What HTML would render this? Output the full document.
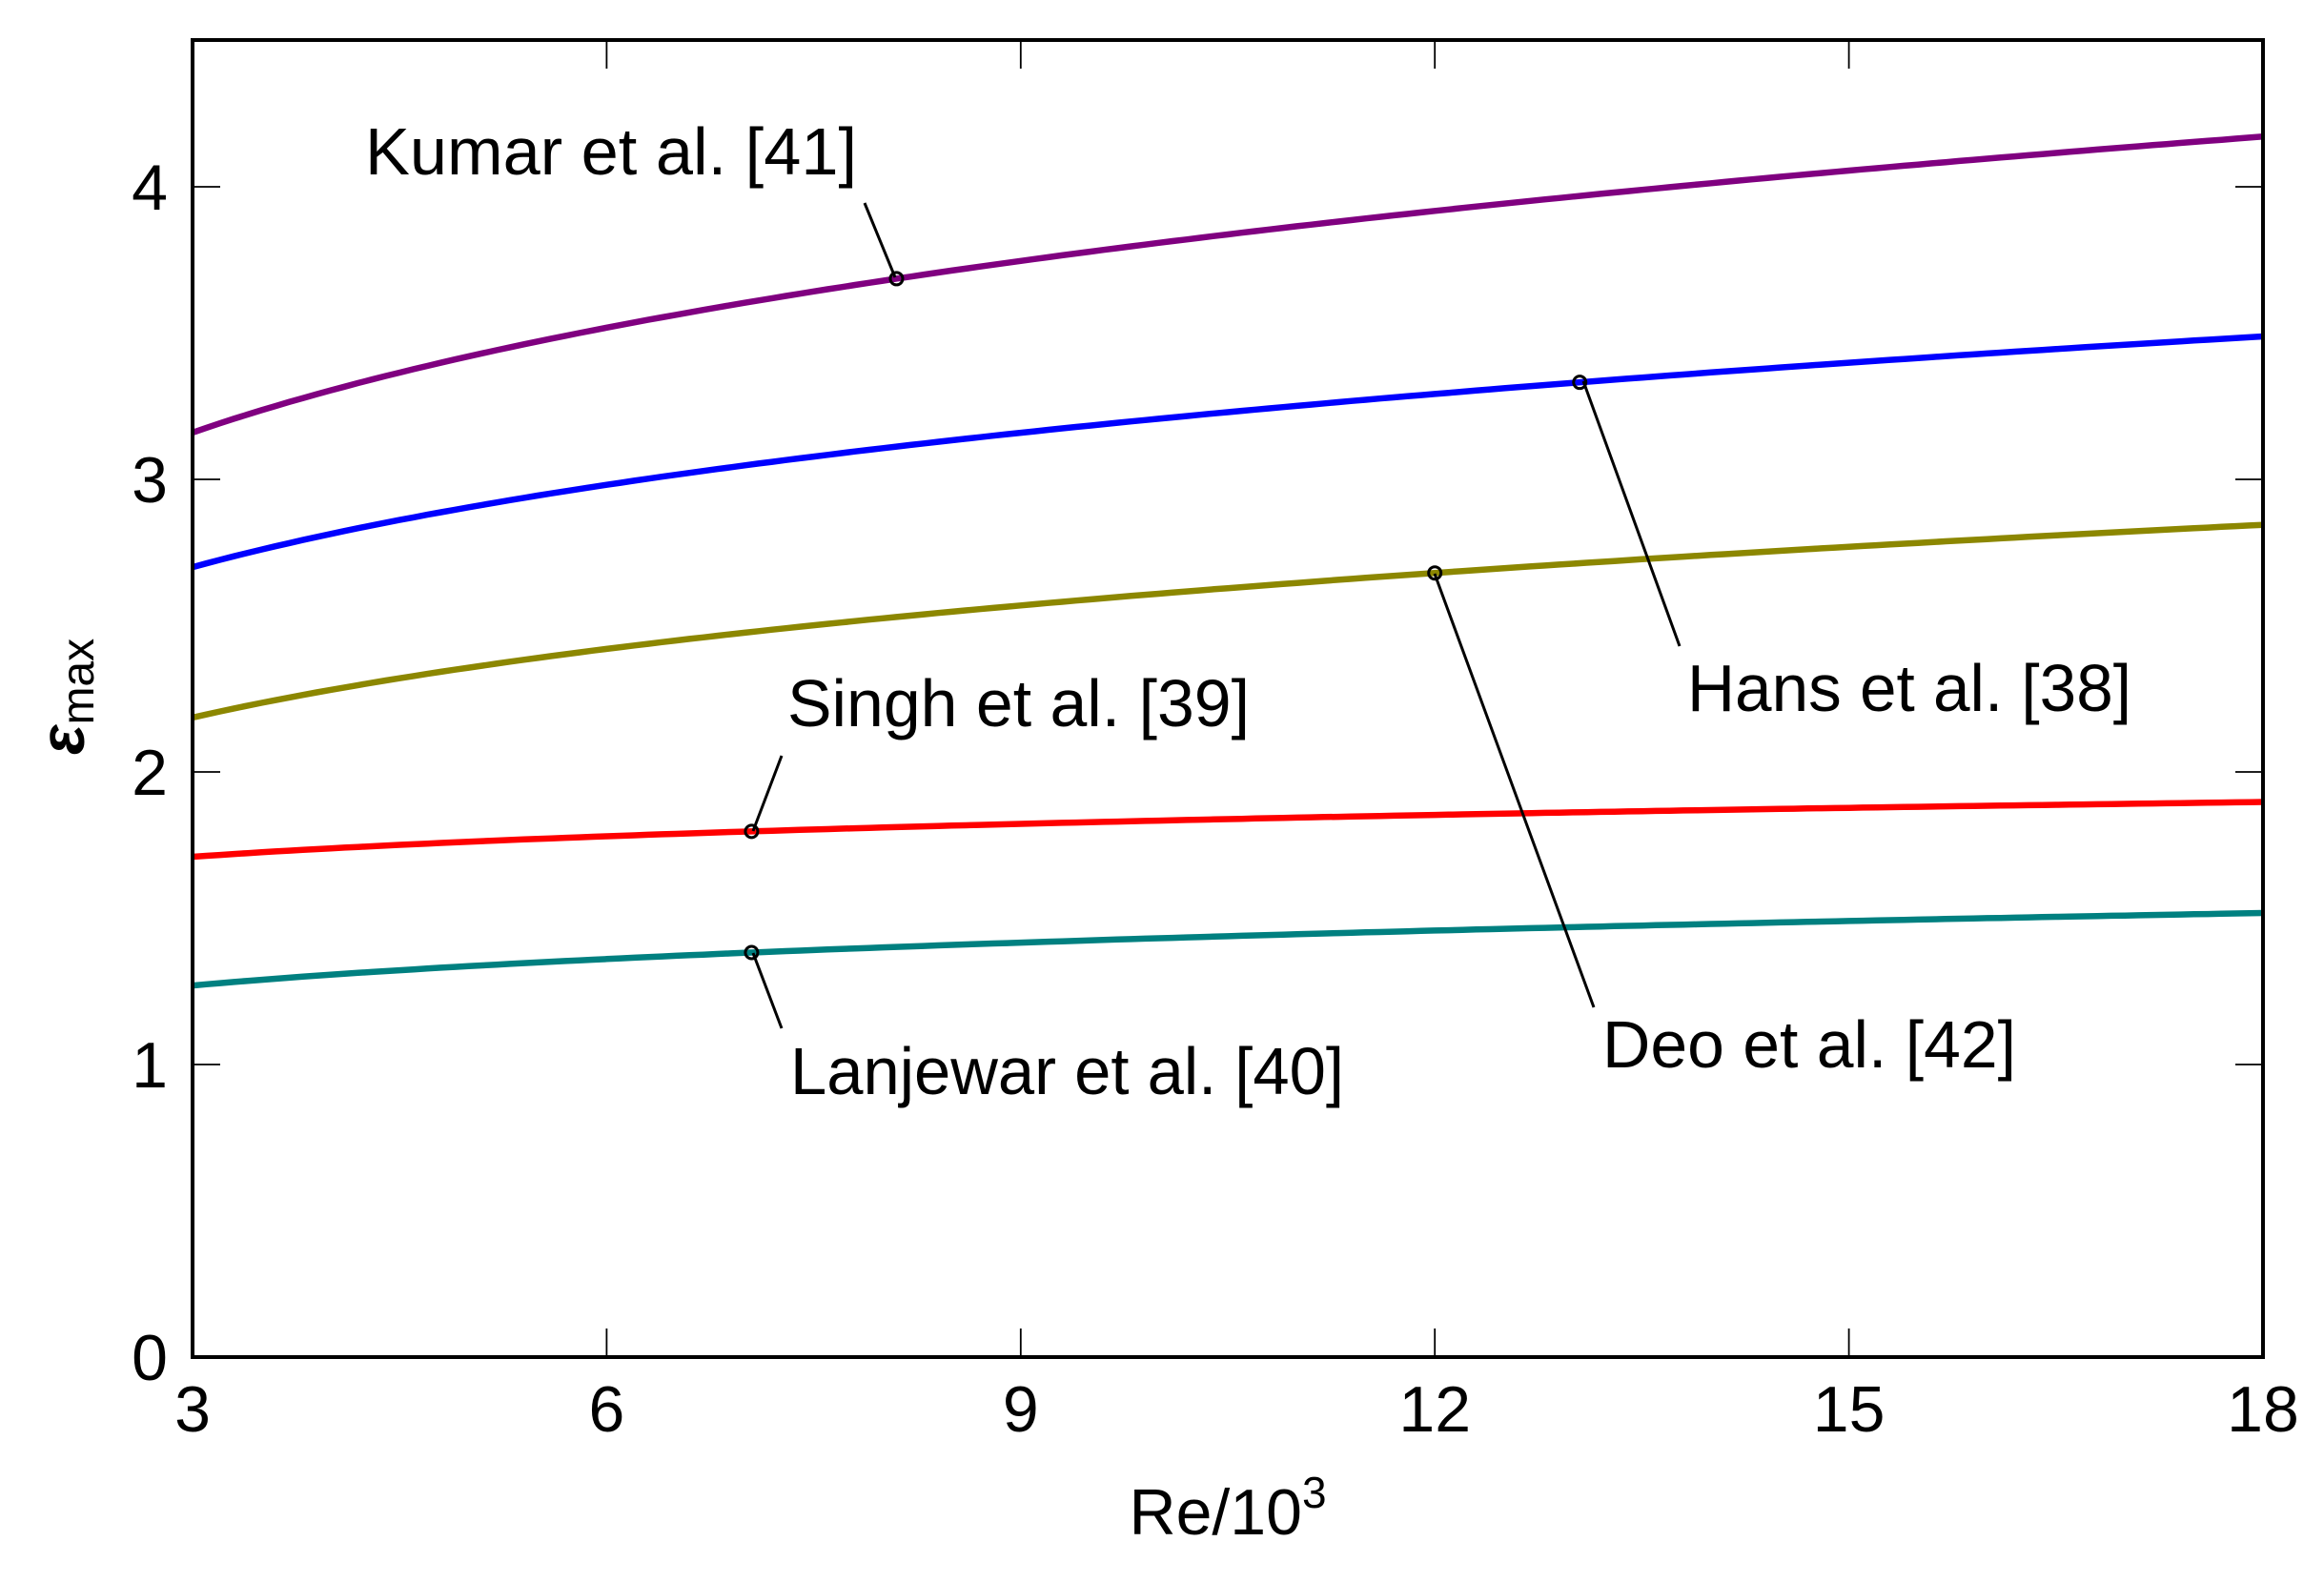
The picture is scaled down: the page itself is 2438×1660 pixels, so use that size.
<!DOCTYPE html>
<html><head><meta charset="utf-8"><style>
html,body{margin:0;padding:0;background:#fff;}
svg{display:block;}
text{font-family:"Liberation Sans",sans-serif;fill:#000;}
</style></head><body>
<svg id="s" width="2438" height="1660" viewBox="0 0 2438 1660" xmlns="http://www.w3.org/2000/svg">
<g id="curves" fill="none" stroke-width="6.5"></g>
<g id="ticks" stroke="#000" stroke-width="1.8"></g>
<rect x="202" y="42" width="2172" height="1382" fill="none" stroke="#000" stroke-width="4"/>
<g stroke="#000" stroke-width="3" fill="none">
<line x1="907" y1="213" x2="939" y2="291"/>
<line x1="1661" y1="400" x2="1762" y2="678"/>
<line x1="790" y1="872" x2="820" y2="793"/>
<line x1="790" y1="1000" x2="820" y2="1079"/>
<line x1="1505" y1="602" x2="1672" y2="1057"/>
</g>
<g id="marks" fill="none" stroke="#000" stroke-width="3"></g>
<g font-size="70">
<text x="383" y="183" textLength="516" lengthAdjust="spacingAndGlyphs">Kumar et al. [41]</text>
<text x="1770" y="746" textLength="466" lengthAdjust="spacingAndGlyphs">Hans et al. [38]</text>
<text x="826" y="762" textLength="485" lengthAdjust="spacingAndGlyphs">Singh et al. [39]</text>
<text x="829" y="1148" textLength="581" lengthAdjust="spacingAndGlyphs">Lanjewar et al. [40]</text>
<text x="1681" y="1120" textLength="434" lengthAdjust="spacingAndGlyphs">Deo et al. [42]</text>
</g>
<g id="labels" font-size="68"></g>
<text x="1288" y="1610" font-size="68" text-anchor="middle">Re/10<tspan font-size="46" dy="-28">3</tspan></text>
<text transform="translate(88,731) rotate(-90)" font-size="66" text-anchor="middle" font-weight="bold" font-style="italic">ε<tspan font-size="48" font-weight="normal" font-style="normal" dy="10">max</tspan></text>
</svg>
<script>
var NS="http://www.w3.org/2000/svg";
function X(v){return 202+(v-3)*144.8;}
function Y(v){return 1424-v*307;}
var series=[
 ["#800080",3.16,0.155,8.1],
 ["#0000ff",2.70,0.143,13.05],
 ["#8c8700",2.186,0.147,12],
 ["#ff0000",1.71,0.058,7.05],
 ["#008080",1.27,0.0995,7.05]
];
var cg=document.getElementById("curves"),mg=document.getElementById("marks");
series.forEach(function(s){
 var d="";
 for(var i=0;i<=150;i++){var r=3+15*i/150;var y=s[1]*Math.pow(r/3,s[2]);d+=(i?"L":"M")+X(r).toFixed(1)+" "+Y(y).toFixed(1);}
 var p=document.createElementNS(NS,"path");p.setAttribute("d",d);p.setAttribute("stroke",s[0]);cg.appendChild(p);
 var c=document.createElementNS(NS,"circle");var r=s[3];
 c.setAttribute("cx",X(r));c.setAttribute("cy",Y(s[1]*Math.pow(r/3,s[2])));c.setAttribute("r",6.5);mg.appendChild(c);
});
var tg=document.getElementById("ticks"),lg=document.getElementById("labels");
function line(a,b,c,d){var l=document.createElementNS(NS,"line");l.setAttribute("x1",a);l.setAttribute("y1",b);l.setAttribute("x2",c);l.setAttribute("y2",d);tg.appendChild(l);}
function txt(x,y,s,anchor){var t=document.createElementNS(NS,"text");t.setAttribute("x",x);t.setAttribute("y",y);t.setAttribute("text-anchor",anchor);t.textContent=s;lg.appendChild(t);}
[3,6,9,12,15,18].forEach(function(v){var x=X(v);line(x,1424,x,1394);line(x,42,x,72);txt(x,1502,String(v),"middle");});
[0,1,2,3,4].forEach(function(v){var y=Y(v);line(202,y,231,y);line(2374,y,2345,y);txt(176,y+24,String(v),"end");});
</script>
</body></html>
